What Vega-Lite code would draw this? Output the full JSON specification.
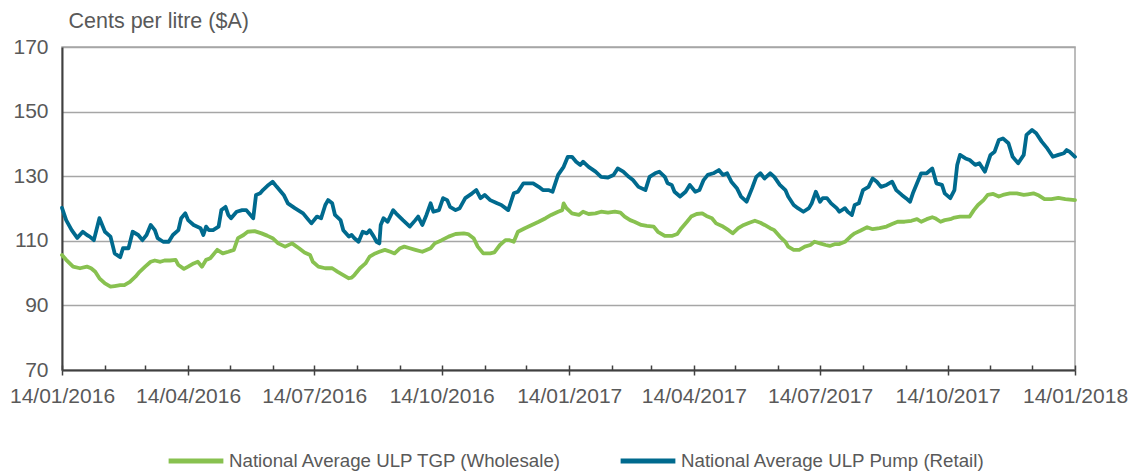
{
  "$schema": "https://vega.github.io/schema/vega-lite/v6.json",
  "width": 1013,
  "height": 323,
  "autosize": {"type": "none"},
  "padding": {"left": 62, "top": 47, "right": 57, "bottom": 103},
  "background": "white",
  "config": {
    "font": "Liberation Sans",
    "view": {"stroke": "#a6a6a6", "strokeWidth": 1.5}
  },
  "datasets": {
    "tgp": [
      {"date": "2016-01-14", "value": 105.6}, {"date": "2016-01-17", "value": 104.1}, {"date": "2016-01-22", "value": 102.0}, {"date": "2016-01-27", "value": 101.5},
      {"date": "2016-02-01", "value": 102.0}, {"date": "2016-02-04", "value": 101.5}, {"date": "2016-02-07", "value": 100.4}, {"date": "2016-02-10", "value": 98.4},
      {"date": "2016-02-14", "value": 96.8}, {"date": "2016-02-18", "value": 95.8}, {"date": "2016-02-21", "value": 96.0}, {"date": "2016-02-25", "value": 96.3},
      {"date": "2016-02-28", "value": 96.3}, {"date": "2016-03-03", "value": 97.3}, {"date": "2016-03-07", "value": 98.9}, {"date": "2016-03-10", "value": 100.4},
      {"date": "2016-03-14", "value": 102.0}, {"date": "2016-03-18", "value": 103.5}, {"date": "2016-03-21", "value": 103.9}, {"date": "2016-03-25", "value": 103.5},
      {"date": "2016-03-28", "value": 103.9}, {"date": "2016-04-01", "value": 103.9}, {"date": "2016-04-05", "value": 104.1}, {"date": "2016-04-07", "value": 102.5},
      {"date": "2016-04-11", "value": 101.3}, {"date": "2016-04-14", "value": 102.0}, {"date": "2016-04-18", "value": 103.0}, {"date": "2016-04-21", "value": 103.5},
      {"date": "2016-04-24", "value": 102.0}, {"date": "2016-04-27", "value": 104.1}, {"date": "2016-04-30", "value": 104.6}, {"date": "2016-05-05", "value": 107.2},
      {"date": "2016-05-09", "value": 106.1}, {"date": "2016-05-13", "value": 106.6}, {"date": "2016-05-17", "value": 107.2}, {"date": "2016-05-20", "value": 110.8},
      {"date": "2016-05-24", "value": 111.8}, {"date": "2016-05-27", "value": 112.8}, {"date": "2016-06-01", "value": 113.0}, {"date": "2016-06-06", "value": 112.3},
      {"date": "2016-06-10", "value": 111.6}, {"date": "2016-06-14", "value": 110.8}, {"date": "2016-06-18", "value": 109.2}, {"date": "2016-06-23", "value": 108.2},
      {"date": "2016-06-28", "value": 109.2}, {"date": "2016-07-03", "value": 107.7}, {"date": "2016-07-07", "value": 106.4}, {"date": "2016-07-11", "value": 105.6},
      {"date": "2016-07-13", "value": 103.5}, {"date": "2016-07-17", "value": 102.0}, {"date": "2016-07-22", "value": 101.5}, {"date": "2016-07-27", "value": 101.5},
      {"date": "2016-07-31", "value": 100.4}, {"date": "2016-08-04", "value": 99.4}, {"date": "2016-08-08", "value": 98.4}, {"date": "2016-08-10", "value": 98.6},
      {"date": "2016-08-12", "value": 99.4}, {"date": "2016-08-16", "value": 101.5}, {"date": "2016-08-20", "value": 103.0}, {"date": "2016-08-23", "value": 105.1},
      {"date": "2016-08-27", "value": 106.1}, {"date": "2016-08-30", "value": 106.6}, {"date": "2016-09-03", "value": 107.2}, {"date": "2016-09-07", "value": 106.6},
      {"date": "2016-09-10", "value": 106.1}, {"date": "2016-09-14", "value": 107.7}, {"date": "2016-09-17", "value": 108.2}, {"date": "2016-09-21", "value": 107.7},
      {"date": "2016-09-25", "value": 107.2}, {"date": "2016-09-30", "value": 106.6}, {"date": "2016-10-06", "value": 107.7}, {"date": "2016-10-09", "value": 109.2},
      {"date": "2016-10-14", "value": 110.2}, {"date": "2016-10-19", "value": 111.3}, {"date": "2016-10-24", "value": 112.1}, {"date": "2016-10-30", "value": 112.3},
      {"date": "2016-11-02", "value": 112.1}, {"date": "2016-11-06", "value": 110.8}, {"date": "2016-11-09", "value": 108.2}, {"date": "2016-11-13", "value": 106.1},
      {"date": "2016-11-18", "value": 106.1}, {"date": "2016-11-21", "value": 106.4}, {"date": "2016-11-25", "value": 108.7}, {"date": "2016-11-29", "value": 110.2},
      {"date": "2016-12-02", "value": 110.2}, {"date": "2016-12-05", "value": 109.7}, {"date": "2016-12-08", "value": 112.8}, {"date": "2016-12-13", "value": 113.9},
      {"date": "2016-12-18", "value": 114.9}, {"date": "2016-12-23", "value": 115.9}, {"date": "2016-12-28", "value": 117.0}, {"date": "2017-01-01", "value": 118.0},
      {"date": "2017-01-06", "value": 119.0}, {"date": "2017-01-09", "value": 119.5}, {"date": "2017-01-10", "value": 121.6}, {"date": "2017-01-12", "value": 120.1},
      {"date": "2017-01-16", "value": 118.5}, {"date": "2017-01-21", "value": 118.0}, {"date": "2017-01-24", "value": 119.0}, {"date": "2017-01-28", "value": 118.3},
      {"date": "2017-02-02", "value": 118.5}, {"date": "2017-02-06", "value": 119.0}, {"date": "2017-02-11", "value": 118.7}, {"date": "2017-02-16", "value": 119.0},
      {"date": "2017-02-20", "value": 118.7}, {"date": "2017-02-23", "value": 117.5}, {"date": "2017-02-27", "value": 116.4}, {"date": "2017-03-02", "value": 115.9},
      {"date": "2017-03-07", "value": 114.9}, {"date": "2017-03-11", "value": 114.6}, {"date": "2017-03-16", "value": 114.4}, {"date": "2017-03-19", "value": 112.8},
      {"date": "2017-03-24", "value": 111.5}, {"date": "2017-03-29", "value": 111.5}, {"date": "2017-04-02", "value": 112.1}, {"date": "2017-04-05", "value": 113.9},
      {"date": "2017-04-09", "value": 115.9}, {"date": "2017-04-12", "value": 117.5}, {"date": "2017-04-16", "value": 118.3}, {"date": "2017-04-20", "value": 118.5},
      {"date": "2017-04-23", "value": 117.7}, {"date": "2017-04-27", "value": 117.0}, {"date": "2017-04-30", "value": 115.4}, {"date": "2017-05-05", "value": 114.4},
      {"date": "2017-05-09", "value": 113.3}, {"date": "2017-05-12", "value": 112.3}, {"date": "2017-05-16", "value": 113.9}, {"date": "2017-05-20", "value": 114.9},
      {"date": "2017-05-24", "value": 115.6}, {"date": "2017-05-28", "value": 116.2}, {"date": "2017-06-01", "value": 115.6}, {"date": "2017-06-04", "value": 114.9},
      {"date": "2017-06-08", "value": 113.9}, {"date": "2017-06-11", "value": 113.3}, {"date": "2017-06-15", "value": 111.3}, {"date": "2017-06-19", "value": 109.7},
      {"date": "2017-06-21", "value": 108.2}, {"date": "2017-06-25", "value": 107.2}, {"date": "2017-06-29", "value": 107.2}, {"date": "2017-07-03", "value": 108.2},
      {"date": "2017-07-07", "value": 108.7}, {"date": "2017-07-10", "value": 109.7}, {"date": "2017-07-14", "value": 109.2}, {"date": "2017-07-18", "value": 108.7},
      {"date": "2017-07-21", "value": 108.4}, {"date": "2017-07-25", "value": 109.0}, {"date": "2017-07-28", "value": 109.0}, {"date": "2017-08-01", "value": 109.7},
      {"date": "2017-08-05", "value": 111.3}, {"date": "2017-08-08", "value": 112.3}, {"date": "2017-08-12", "value": 113.1}, {"date": "2017-08-17", "value": 114.2},
      {"date": "2017-08-21", "value": 113.6}, {"date": "2017-08-26", "value": 113.9}, {"date": "2017-08-31", "value": 114.4}, {"date": "2017-09-04", "value": 115.2},
      {"date": "2017-09-08", "value": 115.9}, {"date": "2017-09-13", "value": 115.9}, {"date": "2017-09-18", "value": 116.2}, {"date": "2017-09-22", "value": 116.7},
      {"date": "2017-09-25", "value": 115.9}, {"date": "2017-09-29", "value": 116.7}, {"date": "2017-10-03", "value": 117.3}, {"date": "2017-10-05", "value": 117.0},
      {"date": "2017-10-09", "value": 115.9}, {"date": "2017-10-12", "value": 116.4}, {"date": "2017-10-16", "value": 116.7}, {"date": "2017-10-19", "value": 117.2},
      {"date": "2017-10-23", "value": 117.5}, {"date": "2017-10-30", "value": 117.5}, {"date": "2017-11-02", "value": 119.5}, {"date": "2017-11-05", "value": 121.1},
      {"date": "2017-11-09", "value": 122.6}, {"date": "2017-11-12", "value": 124.2}, {"date": "2017-11-16", "value": 124.5}, {"date": "2017-11-20", "value": 123.7},
      {"date": "2017-11-23", "value": 124.2}, {"date": "2017-11-28", "value": 124.7}, {"date": "2017-12-03", "value": 124.7}, {"date": "2017-12-08", "value": 124.2},
      {"date": "2017-12-11", "value": 124.4}, {"date": "2017-12-15", "value": 124.7}, {"date": "2017-12-19", "value": 124.0}, {"date": "2017-12-23", "value": 122.9},
      {"date": "2017-12-28", "value": 122.9}, {"date": "2018-01-02", "value": 123.3}, {"date": "2018-01-07", "value": 122.9}, {"date": "2018-01-14", "value": 122.6}
    ],
    "pump": [
      {"date": "2016-01-14", "value": 120.2}, {"date": "2016-01-17", "value": 116.4}, {"date": "2016-01-21", "value": 113.3}, {"date": "2016-01-25", "value": 110.9},
      {"date": "2016-01-29", "value": 112.8}, {"date": "2016-02-01", "value": 111.8}, {"date": "2016-02-03", "value": 111.3}, {"date": "2016-02-06", "value": 110.2},
      {"date": "2016-02-10", "value": 117.0}, {"date": "2016-02-14", "value": 112.8}, {"date": "2016-02-18", "value": 111.3}, {"date": "2016-02-21", "value": 106.1},
      {"date": "2016-02-25", "value": 104.9}, {"date": "2016-02-27", "value": 107.7}, {"date": "2016-03-02", "value": 107.7}, {"date": "2016-03-05", "value": 112.8},
      {"date": "2016-03-09", "value": 111.8}, {"date": "2016-03-12", "value": 110.2}, {"date": "2016-03-15", "value": 111.8}, {"date": "2016-03-18", "value": 114.9},
      {"date": "2016-03-21", "value": 113.3}, {"date": "2016-03-23", "value": 110.8}, {"date": "2016-03-27", "value": 109.7}, {"date": "2016-03-31", "value": 109.7},
      {"date": "2016-04-03", "value": 111.8}, {"date": "2016-04-07", "value": 113.3}, {"date": "2016-04-09", "value": 117.0}, {"date": "2016-04-12", "value": 118.5},
      {"date": "2016-04-14", "value": 116.4}, {"date": "2016-04-18", "value": 114.9}, {"date": "2016-04-23", "value": 113.9}, {"date": "2016-04-25", "value": 111.8},
      {"date": "2016-04-27", "value": 114.4}, {"date": "2016-04-29", "value": 113.3}, {"date": "2016-05-02", "value": 113.3}, {"date": "2016-05-06", "value": 114.4},
      {"date": "2016-05-08", "value": 119.5}, {"date": "2016-05-11", "value": 120.5}, {"date": "2016-05-13", "value": 118.0}, {"date": "2016-05-15", "value": 117.0},
      {"date": "2016-05-19", "value": 119.0}, {"date": "2016-05-23", "value": 119.5}, {"date": "2016-05-26", "value": 119.5}, {"date": "2016-05-29", "value": 118.0},
      {"date": "2016-05-31", "value": 117.0}, {"date": "2016-06-02", "value": 124.2}, {"date": "2016-06-05", "value": 124.7}, {"date": "2016-06-07", "value": 125.7},
      {"date": "2016-06-11", "value": 127.3}, {"date": "2016-06-14", "value": 128.3}, {"date": "2016-06-17", "value": 126.7}, {"date": "2016-06-22", "value": 124.2},
      {"date": "2016-06-25", "value": 121.6}, {"date": "2016-06-30", "value": 120.1}, {"date": "2016-07-06", "value": 118.5}, {"date": "2016-07-10", "value": 116.4},
      {"date": "2016-07-12", "value": 115.4}, {"date": "2016-07-16", "value": 117.5}, {"date": "2016-07-19", "value": 117.0}, {"date": "2016-07-22", "value": 121.1},
      {"date": "2016-07-24", "value": 122.6}, {"date": "2016-07-27", "value": 121.6}, {"date": "2016-07-29", "value": 118.0}, {"date": "2016-08-02", "value": 116.4},
      {"date": "2016-08-04", "value": 113.3}, {"date": "2016-08-08", "value": 111.3}, {"date": "2016-08-10", "value": 111.8}, {"date": "2016-08-12", "value": 110.8},
      {"date": "2016-08-15", "value": 109.7}, {"date": "2016-08-18", "value": 112.8}, {"date": "2016-08-21", "value": 112.3}, {"date": "2016-08-23", "value": 113.3},
      {"date": "2016-08-26", "value": 111.3}, {"date": "2016-08-28", "value": 109.7}, {"date": "2016-08-30", "value": 109.2}, {"date": "2016-08-31", "value": 114.9},
      {"date": "2016-09-02", "value": 117.0}, {"date": "2016-09-05", "value": 115.9}, {"date": "2016-09-09", "value": 119.5}, {"date": "2016-09-11", "value": 118.5},
      {"date": "2016-09-16", "value": 116.4}, {"date": "2016-09-21", "value": 114.4}, {"date": "2016-09-25", "value": 116.4}, {"date": "2016-09-27", "value": 117.5},
      {"date": "2016-09-30", "value": 114.9}, {"date": "2016-10-03", "value": 118.0}, {"date": "2016-10-06", "value": 121.6}, {"date": "2016-10-08", "value": 119.0},
      {"date": "2016-10-12", "value": 119.5}, {"date": "2016-10-15", "value": 123.2}, {"date": "2016-10-18", "value": 122.6}, {"date": "2016-10-20", "value": 120.5},
      {"date": "2016-10-24", "value": 119.5}, {"date": "2016-10-27", "value": 120.1}, {"date": "2016-10-31", "value": 123.2}, {"date": "2016-11-05", "value": 124.7},
      {"date": "2016-11-08", "value": 125.7}, {"date": "2016-11-11", "value": 123.2}, {"date": "2016-11-14", "value": 124.2}, {"date": "2016-11-18", "value": 122.6},
      {"date": "2016-11-23", "value": 121.6}, {"date": "2016-11-26", "value": 121.1}, {"date": "2016-12-01", "value": 119.5}, {"date": "2016-12-05", "value": 124.7},
      {"date": "2016-12-08", "value": 125.2}, {"date": "2016-12-12", "value": 127.8}, {"date": "2016-12-15", "value": 127.8}, {"date": "2016-12-19", "value": 127.8},
      {"date": "2016-12-23", "value": 126.7}, {"date": "2016-12-26", "value": 125.7}, {"date": "2016-12-30", "value": 125.7}, {"date": "2017-01-02", "value": 125.2},
      {"date": "2017-01-06", "value": 130.4}, {"date": "2017-01-10", "value": 132.9}, {"date": "2017-01-13", "value": 136.0}, {"date": "2017-01-16", "value": 136.0},
      {"date": "2017-01-19", "value": 134.5}, {"date": "2017-01-22", "value": 133.5}, {"date": "2017-01-24", "value": 134.5}, {"date": "2017-01-28", "value": 132.9},
      {"date": "2017-02-02", "value": 131.4}, {"date": "2017-02-06", "value": 129.8}, {"date": "2017-02-11", "value": 129.6}, {"date": "2017-02-15", "value": 130.4},
      {"date": "2017-02-18", "value": 132.4}, {"date": "2017-02-22", "value": 131.4}, {"date": "2017-02-26", "value": 129.8}, {"date": "2017-03-01", "value": 128.8},
      {"date": "2017-03-05", "value": 126.7}, {"date": "2017-03-10", "value": 125.7}, {"date": "2017-03-13", "value": 129.8}, {"date": "2017-03-17", "value": 130.9},
      {"date": "2017-03-20", "value": 131.4}, {"date": "2017-03-24", "value": 129.8}, {"date": "2017-03-26", "value": 127.8}, {"date": "2017-03-29", "value": 127.3},
      {"date": "2017-03-31", "value": 125.2}, {"date": "2017-04-04", "value": 123.7}, {"date": "2017-04-08", "value": 125.2}, {"date": "2017-04-11", "value": 127.3},
      {"date": "2017-04-15", "value": 125.2}, {"date": "2017-04-18", "value": 125.7}, {"date": "2017-04-21", "value": 128.8}, {"date": "2017-04-24", "value": 130.4},
      {"date": "2017-04-28", "value": 130.9}, {"date": "2017-05-02", "value": 131.9}, {"date": "2017-05-05", "value": 130.4}, {"date": "2017-05-08", "value": 130.9},
      {"date": "2017-05-11", "value": 128.3}, {"date": "2017-05-15", "value": 126.3}, {"date": "2017-05-18", "value": 123.7}, {"date": "2017-05-22", "value": 122.1},
      {"date": "2017-05-26", "value": 126.3}, {"date": "2017-05-29", "value": 129.8}, {"date": "2017-06-01", "value": 130.9}, {"date": "2017-06-04", "value": 129.3},
      {"date": "2017-06-08", "value": 130.9}, {"date": "2017-06-11", "value": 129.8}, {"date": "2017-06-15", "value": 127.3}, {"date": "2017-06-19", "value": 125.7},
      {"date": "2017-06-21", "value": 123.7}, {"date": "2017-06-25", "value": 121.1}, {"date": "2017-06-28", "value": 120.1}, {"date": "2017-07-02", "value": 119.0},
      {"date": "2017-07-06", "value": 120.1}, {"date": "2017-07-08", "value": 121.6}, {"date": "2017-07-11", "value": 125.2}, {"date": "2017-07-14", "value": 122.1},
      {"date": "2017-07-16", "value": 123.2}, {"date": "2017-07-19", "value": 123.2}, {"date": "2017-07-22", "value": 121.6}, {"date": "2017-07-26", "value": 120.1},
      {"date": "2017-07-28", "value": 119.0}, {"date": "2017-08-01", "value": 120.1}, {"date": "2017-08-03", "value": 119.0}, {"date": "2017-08-06", "value": 118.0},
      {"date": "2017-08-08", "value": 121.1}, {"date": "2017-08-11", "value": 121.6}, {"date": "2017-08-14", "value": 125.7}, {"date": "2017-08-18", "value": 126.7},
      {"date": "2017-08-21", "value": 129.3}, {"date": "2017-08-24", "value": 128.3}, {"date": "2017-08-27", "value": 126.7}, {"date": "2017-08-31", "value": 127.3},
      {"date": "2017-09-04", "value": 128.3}, {"date": "2017-09-07", "value": 125.7}, {"date": "2017-09-11", "value": 124.2}, {"date": "2017-09-14", "value": 123.2},
      {"date": "2017-09-17", "value": 122.1}, {"date": "2017-09-19", "value": 124.7}, {"date": "2017-09-22", "value": 127.8}, {"date": "2017-09-25", "value": 130.9},
      {"date": "2017-09-29", "value": 130.9}, {"date": "2017-10-03", "value": 132.4}, {"date": "2017-10-04", "value": 130.9}, {"date": "2017-10-06", "value": 127.8},
      {"date": "2017-10-10", "value": 127.3}, {"date": "2017-10-12", "value": 124.7}, {"date": "2017-10-16", "value": 123.2}, {"date": "2017-10-19", "value": 125.7},
      {"date": "2017-10-21", "value": 133.5}, {"date": "2017-10-23", "value": 136.6}, {"date": "2017-10-27", "value": 135.5}, {"date": "2017-10-30", "value": 135.0},
      {"date": "2017-11-03", "value": 133.5}, {"date": "2017-11-06", "value": 134.0}, {"date": "2017-11-10", "value": 131.4}, {"date": "2017-11-14", "value": 136.6},
      {"date": "2017-11-17", "value": 137.6}, {"date": "2017-11-20", "value": 141.2}, {"date": "2017-11-23", "value": 141.7}, {"date": "2017-11-27", "value": 140.2},
      {"date": "2017-11-30", "value": 136.0}, {"date": "2017-12-04", "value": 134.0}, {"date": "2017-12-08", "value": 136.6}, {"date": "2017-12-10", "value": 142.8},
      {"date": "2017-12-14", "value": 144.3}, {"date": "2017-12-17", "value": 143.3}, {"date": "2017-12-21", "value": 140.7}, {"date": "2017-12-25", "value": 138.6},
      {"date": "2017-12-29", "value": 136.0}, {"date": "2018-01-02", "value": 136.6}, {"date": "2018-01-06", "value": 137.1}, {"date": "2018-01-08", "value": 138.1},
      {"date": "2018-01-10", "value": 137.6}, {"date": "2018-01-14", "value": 136.0}
    ]
  },
  "layer": [
    {
      "data": {"name": "tgp"},
      "mark": {"type": "line", "strokeWidth": 3.8, "strokeJoin": "round", "strokeCap": "round"},
      "encoding": {
        "x": {
          "field": "date", "type": "temporal",
          "scale": {"type": "utc", "domain": [{"year": 2016, "month": 1, "date": 14, "utc": true}, {"year": 2018, "month": 1, "date": 14, "utc": true}], "nice": false},
          "axis": {
            "title": null, "orient": "bottom",
            "values": [
              {"year": 2016, "month": 1, "date": 14, "utc": true}, {"year": 2016, "month": 4, "date": 14, "utc": true}, {"year": 2016, "month": 7, "date": 14, "utc": true},
              {"year": 2016, "month": 10, "date": 14, "utc": true}, {"year": 2017, "month": 1, "date": 14, "utc": true}, {"year": 2017, "month": 4, "date": 14, "utc": true},
              {"year": 2017, "month": 7, "date": 14, "utc": true}, {"year": 2017, "month": 10, "date": 14, "utc": true}, {"year": 2018, "month": 1, "date": 14, "utc": true}
            ],
            "labelExpr": "utcFormat(datum.value, '%d/%m/%Y')",
            "labelFontSize": 21, "labelColor": "#595959", "labelPadding": 10,
            "labelOverlap": false, "labelFlush": false,
            "tickSize": 5, "tickColor": "#404040", "tickWidth": 1.5,
            "domainColor": "#404040", "domainWidth": 2, "grid": false
          }
        },
        "y": {
          "field": "value", "type": "quantitative",
          "scale": {"domain": [70, 170], "nice": false, "zero": false},
          "axis": {
            "values": [70, 90, 110, 130, 150, 170],
            "title": "Cents per litre ($A)",
            "titleAngle": 0, "titleAlign": "left", "titleBaseline": "middle",
            "titleX": 6, "titleY": -26,
            "titleFontSize": 21.5, "titleFontWeight": "normal", "titleColor": "#595959",
            "labelFontSize": 21, "labelColor": "#595959", "labelPadding": 14,
            "ticks": false, "domainColor": "#404040", "domainWidth": 2,
            "grid": true, "gridColor": "#a6a6a6", "gridWidth": 1.5
          }
        },
        "color": {
          "datum": "National Average ULP TGP (Wholesale)",
          "scale": {"domain": ["National Average ULP TGP (Wholesale)", "National Average ULP Pump (Retail)"], "range": ["#88c150", "#006a8e"]},
          "legend": {
            "title": null, "orient": "none", "legendX": 104, "legendY": 384,
            "direction": "horizontal", "symbolType": "stroke", "symbolSize": 3000,
            "symbolStrokeWidth": 5, "labelFontSize": 18.7, "labelColor": "#595959",
            "labelOffset": 3, "columnPadding": 47, "labelLimit": 500
          }
        }
      }
    },
    {
      "data": {"name": "pump"},
      "mark": {"type": "line", "strokeWidth": 3.8, "strokeJoin": "round", "strokeCap": "round"},
      "encoding": {
        "x": {
          "field": "date", "type": "temporal",
          "axis": {
            "title": null, "orient": "bottom", "labels": false, "domain": false, "grid": false,
            "values": [
              {"year": 2016, "month": 2, "date": 14, "utc": true}, {"year": 2016, "month": 3, "date": 14, "utc": true}, {"year": 2016, "month": 5, "date": 14, "utc": true},
              {"year": 2016, "month": 6, "date": 14, "utc": true}, {"year": 2016, "month": 8, "date": 14, "utc": true}, {"year": 2016, "month": 9, "date": 14, "utc": true},
              {"year": 2016, "month": 11, "date": 14, "utc": true}, {"year": 2016, "month": 12, "date": 14, "utc": true}, {"year": 2017, "month": 2, "date": 14, "utc": true},
              {"year": 2017, "month": 3, "date": 14, "utc": true}, {"year": 2017, "month": 5, "date": 14, "utc": true}, {"year": 2017, "month": 6, "date": 14, "utc": true},
              {"year": 2017, "month": 8, "date": 14, "utc": true}, {"year": 2017, "month": 9, "date": 14, "utc": true}, {"year": 2017, "month": 11, "date": 14, "utc": true},
              {"year": 2017, "month": 12, "date": 14, "utc": true},
              {"year": 2016, "month": 1, "date": 14, "utc": true}, {"year": 2016, "month": 4, "date": 14, "utc": true}, {"year": 2016, "month": 7, "date": 14, "utc": true},
              {"year": 2016, "month": 10, "date": 14, "utc": true}, {"year": 2017, "month": 1, "date": 14, "utc": true}, {"year": 2017, "month": 4, "date": 14, "utc": true},
              {"year": 2017, "month": 7, "date": 14, "utc": true}, {"year": 2017, "month": 10, "date": 14, "utc": true}, {"year": 2018, "month": 1, "date": 14, "utc": true}
            ],
            "tickSize": -5, "tickColor": "#404040", "tickWidth": 1.5
          }
        },
        "y": {"field": "value", "type": "quantitative"},
        "color": {"datum": "National Average ULP Pump (Retail)"}
      }
    }
  ],
  "resolve": {"axis": {"x": "independent"}}
}
